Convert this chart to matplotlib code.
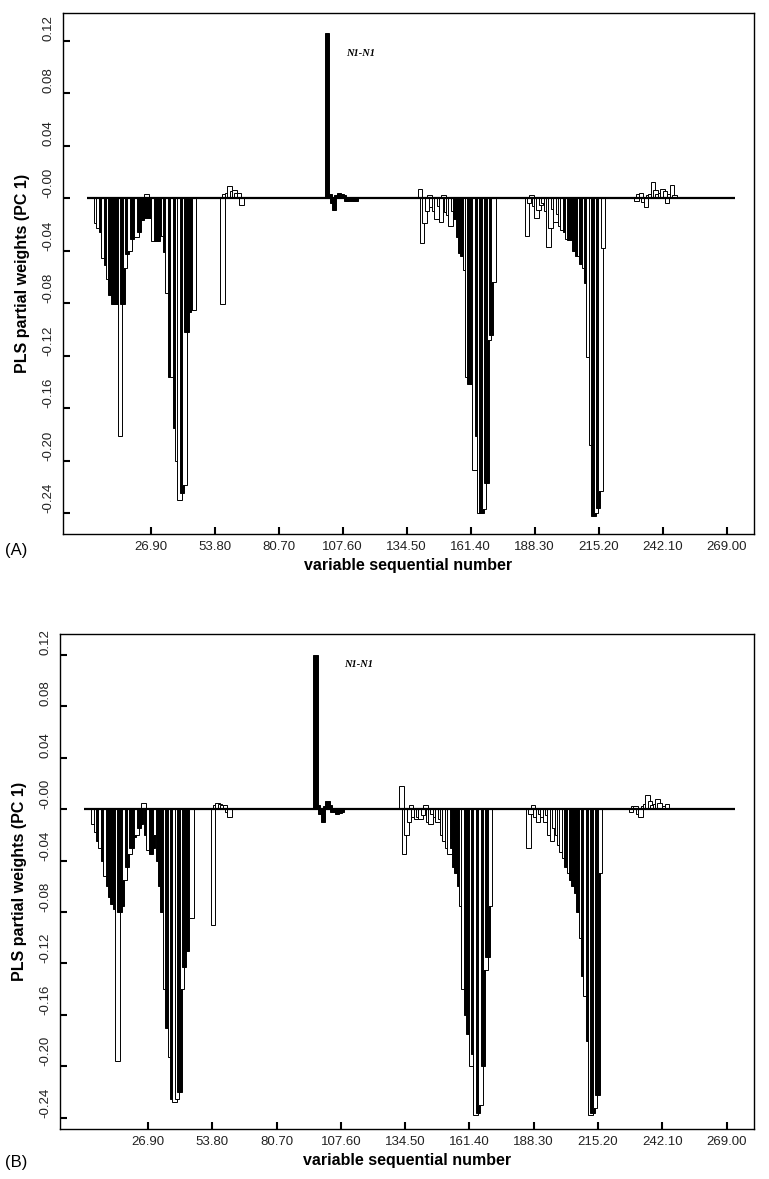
import matplotlib
matplotlib.use("Agg")
import matplotlib.pyplot as plt
import numpy as np

# ---------------- data (variable index -> PLS weight) ----------------
# Panel A groups: start index, values, fill pattern (k = black, w = white)
A_g1_start = 4
A_g1_vals = [-0.019, -0.023, -0.026, -0.046, -0.051, -0.062, -0.074, -0.081, -0.081, -0.081,
             -0.181, -0.081, -0.053, -0.043, -0.040, -0.031, -0.019, -0.030, -0.026, -0.017,
             -0.015, 0.003, -0.015]
A_g1_fill = "wwkwkwkkkkwkwkwkkwkkkwk"

A_g2_start = 27
A_g2_vals = [-0.015, -0.033, -0.033, -0.033, -0.029, -0.029, -0.041, -0.072, -0.136, -0.136,
             -0.175, -0.200, -0.230, -0.225, -0.219, -0.102, -0.087, -0.085, -0.085]
A_g2_fill = "kwkkkwkwkwkwwkwkkkw"

A_g3_start = 57
A_g3_vals = [-0.081, 0.003, 0.004, 0.009, 0.005, 0.006, 0.004, 0.004, -0.005]
A_g3_fill = "wwwwwwwww"

A_g4_start = 101
A_g4_vals = [0.126, 0.003, -0.004, -0.009, 0.002, 0.004, 0.003, 0.002, -0.002, -0.002,
             -0.001, -0.002, -0.002]
A_g4_fill = "kkkkkkkkkkkkk"

A_g5_start = 140
A_g5_vals = [0.007, -0.034, -0.019, -0.010, 0.002, -0.007, -0.010, -0.016, -0.006, -0.018,
             0.002, -0.011, -0.013, -0.021, -0.010, -0.016, -0.030, -0.042, -0.044, -0.055,
             -0.136, -0.142, -0.142, -0.207, -0.181, -0.240, -0.240, -0.237, -0.217, -0.108,
             -0.104, -0.064]
A_g5_fill = "wwwwwwwwwwwwwwwkkkkwwkkwkwkwkwkw"

A_g6_start = 185
A_g6_vals = [-0.029, -0.004, 0.002, -0.006, -0.015, -0.009, -0.005, -0.004, -0.010, -0.037,
             -0.023, -0.008, -0.018, -0.012, -0.021, -0.024, -0.026, -0.031, -0.032, -0.030,
             -0.040, -0.044, -0.044, -0.050, -0.053, -0.065, -0.121, -0.188, -0.242, -0.240,
             -0.236, -0.223, -0.038]
A_g6_fill = "wwwwwwwwwwwwwwwwkwkkkkwkwkwwkwkww"

A_g7_start = 231
A_g7_vals = [-0.002, 0.003, 0.004, -0.003, -0.007, 0.002, 0.003, 0.012, 0.006, 0.003,
             0.004, 0.007, 0.005, -0.004, 0.003, 0.010, 0.002, 0.001]
A_g7_fill = "wwwwwwwwwwwwwwwwww"

# Panel B groups
B_g1_start = 4
B_g1_vals = [-0.012, -0.018, -0.025, -0.030, -0.040, -0.052, -0.060, -0.068, -0.074, -0.078,
             -0.196, -0.080, -0.075, -0.055, -0.045, -0.035, -0.030, -0.022, -0.020, -0.015,
             -0.012, 0.005, -0.020]
B_g1_fill = "wwkwkwkkkkwkkwkwkkwkkwk"

B_g2_start = 27
B_g2_vals = [-0.032, -0.035, -0.030, -0.020, -0.040, -0.060, -0.080, -0.140, -0.170, -0.193,
             -0.225, -0.228, -0.225, -0.220, -0.140, -0.123, -0.110, -0.085, -0.085]
B_g2_fill = "wkkwkkkwkwkwwkwkkkw"

B_g3_start = 54
B_g3_vals = [-0.090, 0.003, 0.005, 0.004, 0.003, 0.003, -0.002, -0.006]
B_g3_fill = "wwwwwwww"

B_g4_start = 97
B_g4_vals = [0.120, 0.003, -0.004, -0.010, 0.002, 0.006, 0.003, -0.002, -0.002, -0.004,
             -0.003, -0.002]
B_g4_fill = "kkkkkkkkkkkk"

B_g5_start = 133
B_g5_vals = [0.018, -0.035, -0.020, -0.010, 0.003, -0.006, -0.008, -0.006, -0.008, -0.005,
             0.003, -0.010, -0.012, -0.004, -0.006, -0.010, -0.008, -0.020, -0.025, -0.030,
             -0.035, -0.030, -0.045, -0.050, -0.060, -0.075, -0.140, -0.160, -0.175, -0.200,
             -0.190, -0.238, -0.236, -0.230, -0.200, -0.125, -0.115, -0.075]
B_g5_fill = "wwwwwwwwwwwwwwwwwwwwwkkkkwwkkwkwkwkwkw"

B_g6_start = 186
B_g6_vals = [-0.030, -0.004, 0.003, -0.006, -0.010, -0.004, -0.006, -0.010, -0.005, -0.020,
             -0.025, -0.015, -0.020, -0.028, -0.033, -0.038, -0.045, -0.050, -0.055, -0.060,
             -0.065, -0.080, -0.100, -0.130, -0.145, -0.180, -0.238, -0.236, -0.232, -0.222,
             -0.050]
B_g6_fill = "wwwwwwwwwwwwwwwwkwkkkkwkwkwkwkw"

B_g7_start = 229
B_g7_vals = [-0.002, 0.002, 0.002, -0.004, -0.006, 0.002, 0.004, 0.011, 0.006, 0.003,
             0.004, 0.008, 0.005, 0.001, 0.002, 0.004, 0.001, 0.001]
B_g7_fill = "wwwwwwwwwwwwwwwwww"

X_TICKS = [26.90, 53.80, 80.70, 107.60, 134.50, 161.40, 188.30, 215.20, 242.10, 269.00]
Y_TICKS = [0.12, 0.08, 0.04, 0.00, -0.04, -0.08, -0.12, -0.16, -0.20, -0.24]
Y_TICKLABELS = ["0.12", "0.08", "0.04", "-0.00", "-0.04", "-0.08", "-0.12", "-0.16", "-0.20", "-0.24"]
PEAK_LABEL = "N1-N1"

PANEL_A = [(A_g1_start, A_g1_vals, A_g1_fill), (A_g2_start, A_g2_vals, A_g2_fill),
           (A_g3_start, A_g3_vals, A_g3_fill), (A_g4_start, A_g4_vals, A_g4_fill),
           (A_g5_start, A_g5_vals, A_g5_fill), (A_g6_start, A_g6_vals, A_g6_fill),
           (A_g7_start, A_g7_vals, A_g7_fill)]
PANEL_B = [(B_g1_start, B_g1_vals, B_g1_fill), (B_g2_start, B_g2_vals, B_g2_fill),
           (B_g3_start, B_g3_vals, B_g3_fill), (B_g4_start, B_g4_vals, B_g4_fill),
           (B_g5_start, B_g5_vals, B_g5_fill), (B_g6_start, B_g6_vals, B_g6_fill),
           (B_g7_start, B_g7_vals, B_g7_fill)]

# ---------------- figure ----------------
W, H = 769, 1179
fig = plt.figure(figsize=(W / 100, H / 100), dpi=100)
plt.rcParams['font.family'] = ['Liberation Sans', 'DejaVu Sans']


def px_axes(left, top, right, bottom):
    return fig.add_axes([left / W, 1 - bottom / H, (right - left) / W, (bottom - top) / H])


def draw_panel(ax, groups, ylim, label_x, label_y, tag, tag_y):
    for start, vals, fill in groups:
        x = np.arange(start, start + len(vals))
        colors = ['black' if c == 'k' else 'white' for c in fill]
        ax.bar(x, vals, width=1.9, color=colors, edgecolor='black', linewidth=0.7, zorder=2)
    ax.hlines(0, 0, 272.5, color='black', linewidth=1.6, zorder=3)
    ax.set_xlim(-10, 280.5)
    ax.set_ylim(*ylim)
    ax.set_xticks(X_TICKS)
    ax.set_xticklabels([f"{t:.2f}" for t in X_TICKS], fontsize=9.5)
    ax.set_yticks(Y_TICKS)
    ax.set_yticklabels(Y_TICKLABELS, fontsize=9.5, rotation=90, va='bottom')
    ax.tick_params(direction='in', length=5, width=1.5, colors='black', labelcolor='#222222')
    ax.tick_params(axis='y', pad=6)
    ax.tick_params(axis='x', pad=5)
    for s in ax.spines.values():
        s.set_linewidth(1.0)
    ax.set_xlabel("variable sequential number", fontsize=11.5, fontweight='bold', labelpad=4)
    ax.set_ylabel("PLS partial weights (PC 1)", fontsize=11.5, fontweight='bold', labelpad=9)
    ax.text(label_x, label_y, PEAK_LABEL, fontsize=7.5, fontweight='bold', style='italic',
            family='Liberation Serif', va='center', ha='left')
    fig.text(5 / W, 1 - tag_y / H, tag, fontsize=12, ha='left', va='center')


axA = px_axes(63, 13, 754, 534)
draw_panel(axA, PANEL_A, (-0.256, 0.141), 109, 0.110, "(A)", 550)

axB = px_axes(60, 634, 754, 1129)
draw_panel(axB, PANEL_B, (-0.2486, 0.136), 109, 0.112, "(B)", 1163)

fig.savefig("out.png", dpi=100)
